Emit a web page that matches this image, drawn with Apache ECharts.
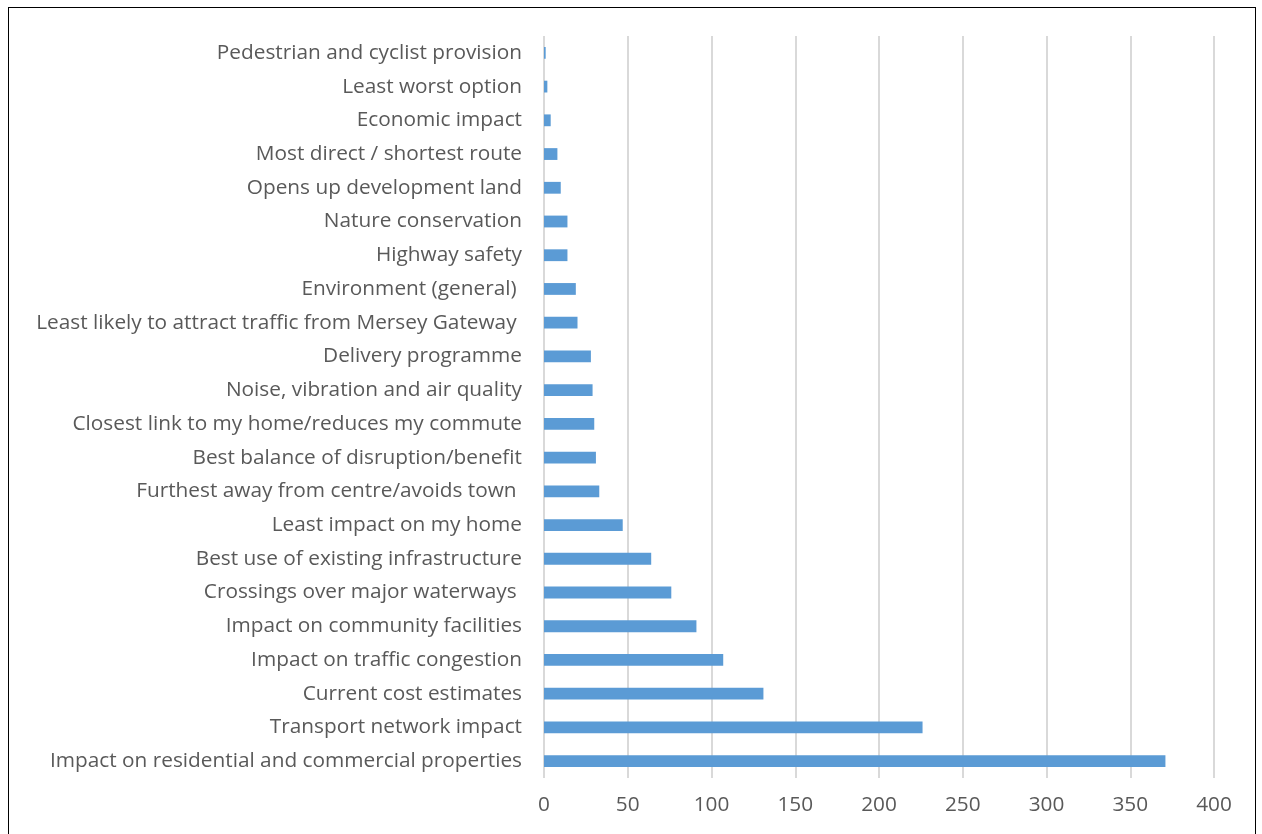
<!DOCTYPE html>
<html>
<head>
<meta charset="utf-8">
<script src="https://cdn.jsdelivr.net/npm/echarts@6/dist/echarts.min.js"></script>
<style>
  html, body { margin: 0; padding: 0; background: #fff; overflow: hidden; }
  #chart { width: 1262px; height: 834px; }
  #frame {
    position: absolute; left: 8px; top: 7px; width: 1246px; height: 840px;
    border: 1.5px solid #000; pointer-events: none;
  }
</style>
</head>
<body>
<div id="chart"></div>
<div id="frame"></div>
<script>
// bottom to top, as the y axis draws them
const categories = [
  'Impact on residential and commercial properties',
  'Transport network impact',
  'Current cost estimates',
  'Impact on traffic congestion',
  'Impact on community facilities',
  'Crossings over major waterways ',
  'Best use of existing infrastructure',
  'Least impact on my home',
  'Furthest away from centre/avoids town ',
  'Best balance of disruption/benefit',
  'Closest link to my home/reduces my commute',
  'Noise, vibration and air quality',
  'Delivery programme',
  'Least likely to attract traffic from Mersey Gateway ',
  'Environment (general) ',
  'Highway safety',
  'Nature conservation',
  'Opens up development land',
  'Most direct / shortest route',
  'Economic impact',
  'Least worst option',
  'Pedestrian and cyclist provision'
]
const counts = [371, 226, 131, 107, 91, 76, 64, 47, 33, 31, 30, 29, 28, 20, 19, 14, 14, 10, 8, 4, 2, 1]

const chart = echarts.init(document.getElementById('chart'))
const textStyle = { color: '#595959', fontFamily: 'Open Sans', fontSize: 20.8 }

chart.setOption({
  animation: false,
  grid: { left: 544, right: 48, top: 36, bottom: 56 },
  xAxis: {
    type: 'value',
    min: 0,
    max: 400,
    interval: 50,
    axisLine: { show: false },
    axisTick: { show: false },
    axisLabel: Object.assign({ margin: 17 }, textStyle),
    splitLine: { lineStyle: { color: '#d9d9d9', width: 2 } }
  },
  yAxis: {
    type: 'category',
    data: categories,
    axisLine: { show: false },
    axisTick: { show: false },
    axisLabel: Object.assign({ margin: 22 }, textStyle)
  },
  series: [{
    type: 'bar',
    data: counts,
    barCategoryGap: '65%',
    itemStyle: { color: '#5b9bd5' }
  }]
})
</script>
</body>
</html>
